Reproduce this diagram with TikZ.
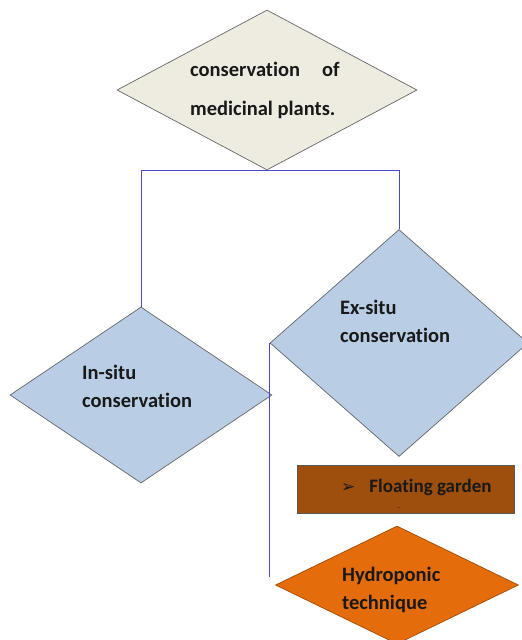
\documentclass[tikz,border=0pt]{standalone}
\usepackage{fontspec}
\setmainfont[Ligatures=NoCommon]{Carlito}
\newfontfamily\symfont{DejaVu Sans}
\usetikzlibrary{shapes.geometric}

\definecolor{topfill}{HTML}{EEECE1}
\definecolor{bluefill}{HTML}{B9CDE5}
\definecolor{brownfill}{HTML}{9E4E0D}
\definecolor{orangefill}{HTML}{E46C0A}
\definecolor{linkblue}{HTML}{4A4AC8}

\begin{document}
\begin{tikzpicture}[
  x=1pt, y=-1pt,
  dia/.style={diamond, draw=gray!80!black, line width=0.7pt, inner sep=0pt},
  topD/.style={dia, fill=topfill},
  blueD/.style={dia, fill=bluefill},
  orangeD/.style={dia, fill=orangefill, draw=orangefill!70!black},
  boxR/.style={rectangle, draw=gray!70!black, fill=brownfill, inner sep=0pt},
  txt/.style={anchor=west, align=left, inner sep=0pt, font=\fontsize{20.5}{28}\selectfont\bfseries, text=black!90},
  link/.style={draw=linkblue, line width=0.6pt}
]
\useasboundingbox (0,0) rectangle (522,640);

% --- shapes ---
\node[topD, minimum width=300, minimum height=160] (root) at (267,90) {};
\node[blueD, minimum width=262, minimum height=176] (insitu) at (141,395) {};
\node[blueD, minimum width=258, minimum height=227] (exsitu) at (399,343) {};
\node[boxR, minimum width=217, minimum height=48] (float) at (405.5,489) {};
\node[orangeD, minimum width=243, minimum height=118] (hydro) at (397,585) {};

% --- texts ---
\node[txt, font=\fontsize{20.5}{39}\selectfont\bfseries] (rootT) at (190,90)
  {conservation\hspace{22pt}of\\medicinal plants.};
\node[txt] (insituT) at (82,386) {In-situ\\conservation};
\node[txt] (exsituT) at (340,321) {Ex-situ\\conservation};
\node[txt, font=\fontsize{19}{22}\selectfont\bfseries] (floatT) at (341,487)
  {{\symfont\fontsize{17}{19}\selectfont ➢}\hspace{14pt}Floating garden};
\node[inner sep=0pt, font=\fontsize{8}{9}\selectfont] (floatDot) at (399,508) {.};
\node[txt] (hydroT) at (342,590) {Hydroponic\\technique};

% --- connectors ---
\coordinate (lineEnd) at (272,577);
\draw[link] (insitu.north) |- (root.south) -| (exsitu.north);
\draw[link] (exsitu.west) -- (exsitu.west |- lineEnd);

\end{tikzpicture}
\end{document}
